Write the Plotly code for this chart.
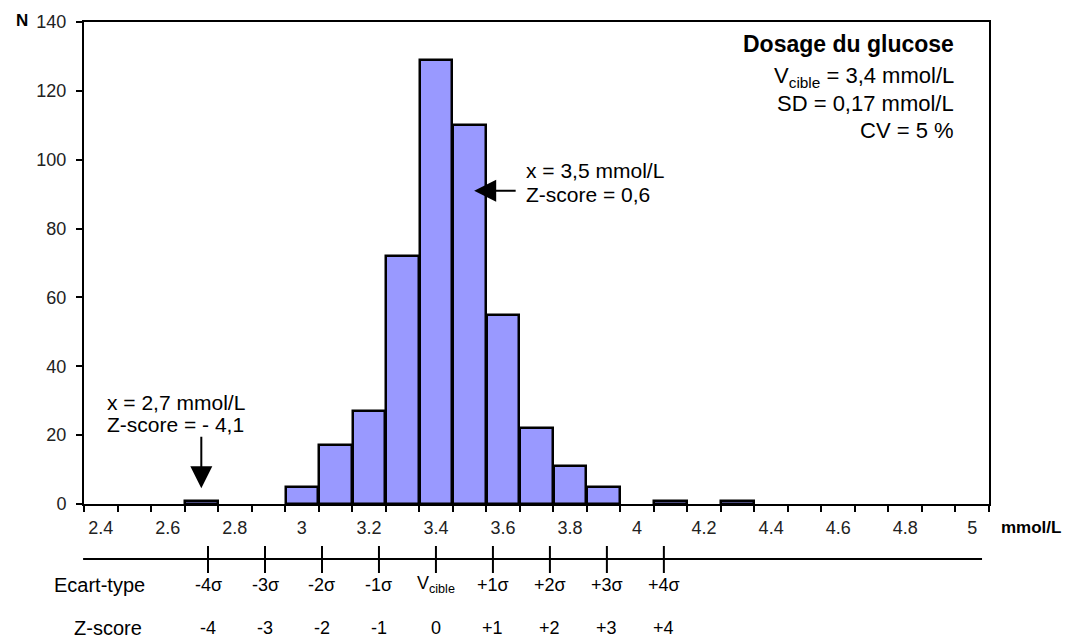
import plotly.graph_objects as go

# ---- data ----
bins = [2.4, 2.5, 2.6, 2.7, 2.8, 2.9, 3.0, 3.1, 3.2, 3.3, 3.4, 3.5, 3.6, 3.7,
        3.8, 3.9, 4.0, 4.1, 4.2, 4.3, 4.4, 4.5, 4.6, 4.7, 4.8, 4.9, 5.0]
counts = [0, 0, 0, 1, 0, 0, 5, 17, 27, 72, 129, 110, 55, 22,
          11, 5, 0, 1, 0, 1, 0, 0, 0, 0, 0, 0, 0]
x_tick_vals = [2.4, 2.6, 2.8, 3.0, 3.2, 3.4, 3.6, 3.8, 4.0, 4.2, 4.4, 4.6, 4.8, 5.0]
x_tick_text = ["2.4", "2.6", "2.8", "3", "3.2", "3.4", "3.6", "3.8", "4", "4.2",
               "4.4", "4.6", "4.8", "5"]
y_tick_vals = [0, 20, 40, 60, 80, 100, 120, 140]

v_cible = 3.4
sd = 0.17
sigma_k = [-4, -3, -2, -1, 0, 1, 2, 3, 4]
sigma_labels = ["-4σ", "-3σ", "-2σ", "-1σ", "V<sub>cible</sub>", "+1σ", "+2σ", "+3σ", "+4σ"]
z_labels = ["-4", "-3", "-2", "-1", "0", "+1", "+2", "+3", "+4"]

point_hi = (3.5, 0.6)    # x, z-score
point_lo = (2.7, -4.1)

FONT = "Liberation Sans, Arial, sans-serif"
BAR = "#9999FF"

half = (bins[1] - bins[0]) / 2
boundaries = [round(b - half, 3) for b in bins] + [round(bins[-1] + half, 3)]
bar_y = [c if c > 0 else None for c in counts]

fig = go.Figure()
fig.add_trace(go.Bar(
    x=bins, y=bar_y, width=0.097,
    marker=dict(color=BAR, line=dict(color="black", width=2.5)),
    showlegend=False, hoverinfo="x+y",
))

fig.update_layout(
    width=1066, height=641,
    margin=dict(l=84, r=77, t=22, b=137),
    paper_bgcolor="white", plot_bgcolor="white",
    font=dict(family=FONT, color="black", size=18),
    bargap=0,
    xaxis=dict(
        range=[boundaries[0], boundaries[-1]],
        tickmode="array", tickvals=x_tick_vals, ticktext=x_tick_text,
        ticks="", ticklabelstandoff=6,
        tickfont=dict(size=18, color="#222"),
        minor=dict(tickmode="array", tickvals=boundaries, ticks="outside",
                   ticklen=6, tickwidth=1.5, tickcolor="black"),
        showline=True, linecolor="black", linewidth=2, mirror=True,
        showgrid=False, zeroline=False,
    ),
    yaxis=dict(
        range=[0, 140], tickmode="array", tickvals=y_tick_vals,
        ticks="outside", ticklen=6, tickwidth=1.5, tickcolor="black",
        tickfont=dict(size=18, color="#222"), ticklabelstandoff=6,
        showline=True, linecolor="black", linewidth=2, mirror=True,
        showgrid=False, zeroline=False,
    ),
)

ann = []
# axis labels
ann.append(dict(text="<b>N</b>", x=-0.068, y=1.004, xref="paper", yref="paper",
                xanchor="center", yanchor="middle", showarrow=False, font=dict(size=17)))
ann.append(dict(text="<b>mmol/L</b>", x=1.011, y=-0.048, xref="paper", yref="paper",
                xanchor="left", yanchor="middle", showarrow=False, font=dict(size=17)))

# info box (top right)
info = [("<b>Dosage du glucose</b>", 0.954, 23),
        ("V<sub>cible</sub> = 3,4 mmol/L", 0.886, 22),
        ("SD = 0,17 mmol/L", 0.830, 22),
        ("CV = 5 %", 0.774, 22)]
for t, yy, fs in info:
    ann.append(dict(text=t, x=0.9635, y=yy, xref="paper", yref="paper",
                    xanchor="right", yanchor="middle", showarrow=False,
                    font=dict(size=fs)))

# point annotations
ann.append(dict(text="x = 3,5 mmol/L", x=0.486, y=0.691, xref="paper", yref="paper",
                xanchor="left", yanchor="middle", showarrow=False, font=dict(size=21)))
ann.append(dict(text="Z-score = 0,6", x=0.486, y=0.643, xref="paper", yref="paper",
                xanchor="left", yanchor="middle", showarrow=False, font=dict(size=21)))
ann.append(dict(text="", x=point_hi[0] + 0.014, y=91, xref="x", yref="y",
                showarrow=True, ax=43, ay=0, arrowhead=2, arrowsize=2.2,
                arrowwidth=2, arrowcolor="black"))

ann.append(dict(text="x = 2,7 mmol/L", x=0.023, y=0.2116, xref="paper", yref="paper",
                xanchor="left", yanchor="middle", showarrow=False, font=dict(size=21)))
ann.append(dict(text="Z-score = - 4,1", x=0.023, y=0.164, xref="paper", yref="paper",
                xanchor="left", yanchor="middle", showarrow=False, font=dict(size=21)))
ann.append(dict(text="", x=point_lo[0], y=4.6, xref="x", yref="y",
                showarrow=True, ax=0, ay=-53, arrowhead=2, arrowsize=2.2,
                arrowwidth=2, arrowcolor="black"))

# sigma scale rows
ann.append(dict(text="Ecart-type", x=0.0694, y=-0.168, xref="paper", yref="paper",
                xanchor="right", yanchor="middle", showarrow=False, font=dict(size=20)))
ann.append(dict(text="Z-score", x=0.0663, y=-0.257, xref="paper", yref="paper",
                xanchor="right", yanchor="middle", showarrow=False, font=dict(size=20)))

shapes = [dict(type="line", xref="paper", yref="paper", x0=-0.001, x1=0.9923,
               y0=-0.1141, y1=-0.1141, line=dict(color="black", width=2))]
for k, sl, zl in zip(sigma_k, sigma_labels, z_labels):
    xv = v_cible + k * sd
    shapes.append(dict(type="line", xref="x", yref="paper", x0=xv, x1=xv,
                       y0=-0.0871, y1=-0.1432, line=dict(color="black", width=2)))
    ann.append(dict(text=sl, x=xv, y=-0.168, xref="x", yref="paper",
                    xanchor="center", yanchor="middle", showarrow=False,
                    font=dict(size=18)))
    ann.append(dict(text=zl, x=xv, y=-0.257, xref="x", yref="paper",
                    xanchor="center", yanchor="middle", showarrow=False,
                    font=dict(size=18)))

fig.update_layout(annotations=ann, shapes=shapes)
fig.write_html("out.html", config={"displayModeBar": False},
               post_script="document.body.style.margin='0px';")
